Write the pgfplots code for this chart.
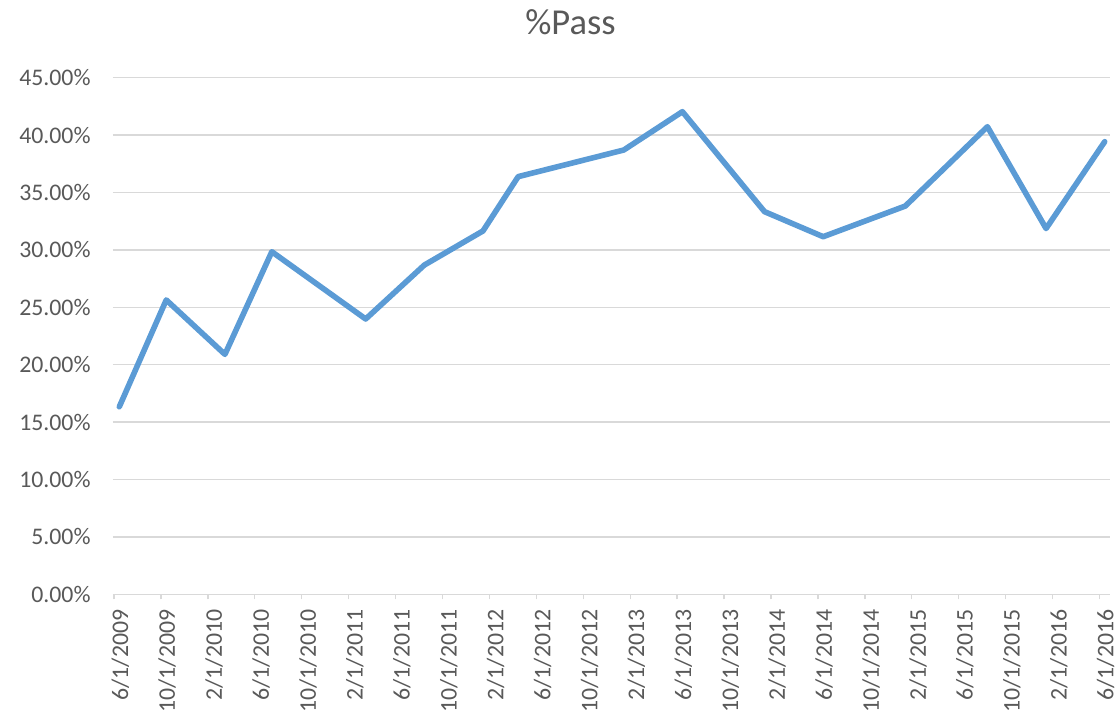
\documentclass[border=0pt]{standalone}
\usepackage{pgfplots}
\pgfplotsset{compat=1.18}
\usepackage{fontspec}
\setmainfont{Carlito}
\definecolor{txt}{HTML}{595959}
\definecolor{gridc}{HTML}{D9D9D9}
\definecolor{linec}{HTML}{5B9BD5}
\begin{document}
\begin{tikzpicture}
\begin{axis}[
  at={(84.75pt,89.025pt)}, anchor=south west,
  scale only axis, width=747.75pt, height=387.45pt,
  xmin=-0.09, xmax=84.9, ymin=0, ymax=45,
  axis x line*=bottom, axis y line*=left,
  separate axis lines,
  x axis line style={gridc, line width=1pt, -},
  y axis line style={draw=none, -},
  ymajorgrids, grid style={gridc, line width=1pt},
  tick align=outside,
  xtick={0,4,...,84},
  xticklabels={6/1/2009,10/1/2009,2/1/2010,6/1/2010,10/1/2010,2/1/2011,6/1/2011,10/1/2011,2/1/2012,6/1/2012,10/1/2012,2/1/2013,6/1/2013,10/1/2013,2/1/2014,6/1/2014,10/1/2014,2/1/2015,6/1/2015,10/1/2015,2/1/2016,6/1/2016},
  xtick style={gridc, line width=1pt},
  x tick label style={rotate=90, anchor=base east, inner sep=0pt, text=txt, font=\fontsize{17.85}{20}\selectfont, yshift=-10.5pt},
  xticklabel shift=7.5pt,
  ytick={0,5,...,45},
  yticklabels={0.00\%,5.00\%,10.00\%,15.00\%,20.00\%,25.00\%,30.00\%,35.00\%,40.00\%,45.00\%},
  ytick style={draw=none},
  y tick label style={anchor=east, inner sep=0pt, text=txt, font=\fontsize{17.85}{20}\selectfont},
  yticklabel shift=12.9pt,
  major tick length=3.75pt,
  clip=false,
]
\addplot[linec, line width=4.2pt, line join=round, line cap=round] coordinates {
(0.45,16.34)(4.45,25.64)(9.45,20.90)(13.45,29.84)(21.45,23.98)(26.45,28.68)(31.45,31.65)(34.45,36.38)(43.45,38.70)(48.45,42.04)(55.45,33.33)(60.45,31.15)(67.45,33.82)(74.45,40.73)(79.45,31.86)(84.45,39.43)
};
\end{axis}
\node[anchor=base, inner sep=0pt, text=txt, font=\fontsize{27.4}{30}\selectfont] at (427.875pt,508.5pt) {\%Pass};
\pgfresetboundingbox
\path[use as bounding box] (0,0) rectangle (837.75pt,534.75pt);
\end{tikzpicture}
\end{document}
